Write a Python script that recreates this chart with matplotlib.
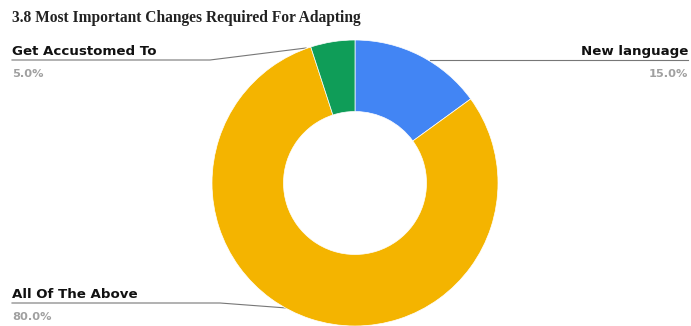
import matplotlib.pyplot as plt
from matplotlib.lines import Line2D

labels = ['New language', 'All Of The Above', 'Get Accustomed To']
values = [15.0, 80.0, 5.0]
colors = ['#4285F4', '#F4B400', '#0F9D58']

title = '3.8 Most Important Changes Required For Adapting'

W, H = 691, 326
fig = plt.figure(figsize=(W / 100, H / 100), dpi=100, facecolor='white')

# donut, centre ~ (355, 183) px, radius ~143 px
ax = fig.add_axes([212 / W, 0, 286 / W, 286 / H])
ax.pie(values, colors=colors, startangle=90, counterclock=False,
       wedgeprops=dict(width=0.5, edgecolor='white', linewidth=0.5))
ax.set_xlim(-1, 1)
ax.set_ylim(-1, 1)
ax.set_aspect('equal')
ax.axis('off')

# overlay in pixel coordinates for labels and leader lines
ov = fig.add_axes([0, 0, 1, 1], zorder=-1)
ov.set_xlim(0, W)
ov.set_ylim(H, 0)
ov.axis('off')
ov.patch.set_alpha(0)

fig.text(12 / W, 1 - 18 / H, title, family='Liberation Serif', weight='bold',
         fontsize=11.2, va='center', ha='left', color='#222222')

lc = '#777777'
ov.add_line(Line2D([12, 210, 306], [60, 60, 48], color=lc, lw=0.8))
ov.add_line(Line2D([430, 688], [60, 60], color=lc, lw=0.8))
ov.add_line(Line2D([12, 220, 300], [303, 303, 309], color=lc, lw=0.8))

name_kw = dict(family='DejaVu Sans', weight='heavy', fontsize=9.6, color='#111111', va='bottom')
pct_kw = dict(family='DejaVu Sans', weight='bold', fontsize=8.2, color='#A0A0A0', va='center')

# label positions: (x, line y, anchor)
pos = {'New language': (688, 58, 'right'),
       'All Of The Above': (12, 301, 'left'),
       'Get Accustomed To': (12, 58, 'left')}
for lab, v in zip(labels, values):
    x, y, ha = pos[lab]
    ov.text(x, y, lab, ha=ha, **name_kw)
    ov.text(x, y + 16, '{:.1f}%'.format(v), ha=ha, **pct_kw)

fig.savefig('out.png', dpi=100, facecolor='white')
